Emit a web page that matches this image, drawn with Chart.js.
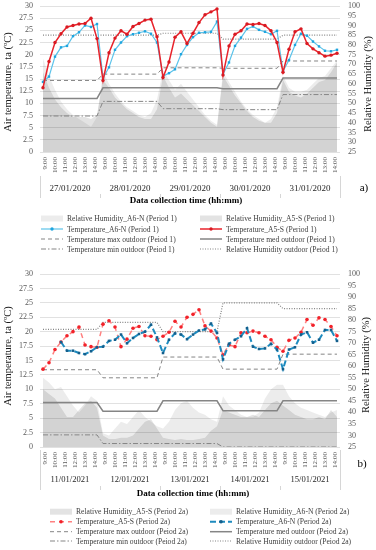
<!DOCTYPE html>
<html>
<head>
<meta charset="utf-8">
<script src="https://cdn.jsdelivr.net/npm/chart.js@4.4.1/dist/chart.umd.min.js"></script>
<style>
  html, body { margin: 0; padding: 0; background: #fff; }
  #wrapA { position: absolute; left: 0; top: 0; width: 376px; height: 258px; }
  #wrapB { position: absolute; left: 0; top: 258px; width: 376px; height: 292px; }
</style>
</head>
<body>
<div id="wrapA"><canvas id="chartA"></canvas></div>
<div id="wrapB"><canvas id="chartB"></canvas></div>
<script>
// ticks / categories
const hourTicks = ['9:00', '10:00', '11:00', '12:00', '13:00', '14:00'];
const datesA = ['27/01/2020', '28/01/2020', '29/01/2020', '30/01/2020', '31/01/2020'];
const datesB = ['11/01/2021', '12/01/2021', '13/01/2021', '14/01/2021', '15/01/2021'];
const pointsPerDay = 10;

// panel a) Period 1
const tempA5S_a = [13.2, 18.6, 22.5, 24.3, 25.7, 26.0, 26.3, 26.4, 27.5, 23.3,
  14.7, 20.4, 23.4, 24.9, 24.2, 25.8, 26.4, 27.1, 27.3, 23.7,
  15.3, 18.5, 23.6, 24.7, 22.3, 24.4, 26.6, 28.2, 28.8, 29.4,
  15.8, 21.8, 24.2, 24.9, 26.3, 26.2, 26.4, 26.0, 24.9, 22.5,
  16.4, 21.1, 24.7, 25.3, 22.3, 21.2, 20.4, 19.7, 19.9, 20.3];
const tempA6N_a = [14.4, 15.5, 19.6, 21.5, 21.8, 23.8, 24.6, 26.0, 25.7, 26.3,
  15.2, 17.4, 21.0, 22.5, 23.8, 24.2, 24.5, 24.8, 24.3, 22.5,
  15.6, 16.2, 17.0, 20.1, 22.0, 23.6, 24.5, 24.6, 24.7, 26.8,
  16.0, 18.4, 21.8, 23.5, 25.3, 25.8, 25.1, 24.7, 24.2, 24.9,
  16.6, 18.9, 22.0, 24.3, 23.9, 22.7, 21.7, 20.8, 20.7, 21.0];
const rhA6N_a = [73, 64, 57, 51, 47, 44, 42, 40, 38, 43,
  66, 60, 55, 51, 48, 46, 44, 43, 45, 52,
  67, 62, 57, 60, 56, 52, 48, 44, 41, 39,
  66, 61, 56, 51, 47, 44, 42, 40, 42, 48,
  64, 58, 56, 56, 57, 60, 63, 64, 68, 72];
const rhA5S_a = [66, 58, 52, 48, 45, 43, 43, 43, 42, 44,
  62, 58, 53, 50, 47, 45, 43, 42, 42, 47,
  64, 58, 53, 55, 52, 49, 46, 43, 40, 38,
  64, 59, 54, 50, 46, 43, 41, 40, 40, 45,
  62, 56, 54, 53, 55, 58, 61, 62, 66, 71];
const tMax_a = [14.7, 16.0, 17.3, 17.2, 18.7];
const tMed_a = [11.0, 13.2, 13.2, 13.0, 15.2];
const tMin_a = [7.4, 10.4, 8.9, 8.7, 11.8];
const rhOut_a = [85, 85, 86, 83, 85];

// panel b) Period 2a
const tempA5S_b = [13.5, 14.6, 16.9, 18.2, 19.3, 20.0, 20.8, 17.7, 17.4, 17.3,
  21.3, 21.9, 20.8, 17.4, 18.7, 20.6, 20.9, 19.3, 19.2, 18.6,
  19.2, 19.9, 21.8, 20.8, 22.5, 23.0, 23.8, 21.0, 20.1, 18.9,
  16.0, 17.7, 17.4, 19.8, 19.8, 20.1, 19.8, 19.2, 18.6, 17.3,
  16.6, 18.5, 18.9, 19.9, 22.1, 21.1, 22.4, 22.1, 20.9, 19.3];
const tempA6N_b = [null, null, null, 18.2, 16.7, 16.7, 16.3, 16.1, 16.6, 17.3,
  17.4, 18.4, 18.6, 19.5, 18.0, 18.9, 19.6, 20.0, 21.2, 19.0,
  16.3, 18.6, 19.7, 19.5, 18.7, 19.5, 20.2, 20.4, 21.4, 19.8,
  15.2, 17.9, 18.6, 19.2, 20.6, 17.4, 17.0, 17.1, 17.9, 16.9,
  13.5, 16.9, 17.3, 19.5, 19.9, 18.1, 18.6, 20.3, 20.3, 18.4];
const rhA5S_b = [50, 48, 46, 42, 38, 38, 41, 44, 45, 42,
  30, 28.5, 28.5, 29, 29, 30, 33, 36, 37, 33,
  29, 28.5, 28, 28.5, 28, 28, 28.5, 29, 32, 34,
  41, 40, 39, 38, 38, 39, 38, 41, 44, 45,
  43, 41, 39, 38, 37, 37, 38, 37, 41, 38];
const rhA6N_b = [55, 53, 50, 51, 47, 43, 40, 43, 47, 45,
  31, 30, 33, 36, 35, 38, 41, 38, 36, 34,
  33, 36, 41, 44, 45, 42, 40, 39, 37, 36,
  47, 43, 41, 39, 38, 38, 40, 46, 50, 52,
  52, 47, 44, 42, 41, 40, 39, 38, 40, 41];
const tMax_b = [13.4, 12.0, 15.6, 13.5, 16.1];
const tMed_b = [7.7, 6.2, 8.0, 6.3, 8.0];
const tMin_b = [2.1, 0.6, 0.6, 0.0, 0.0];
const rhOut_b = [76, 79, 75, 87.5, 85];

// outdoor values are one per day
function perDay(values) {
  return values.flatMap(v => Array(pointsPerDay).fill(v));
}
function samples(dates) {
  return dates.flatMap(d => Array.from({ length: pointsPerDay }, (_, i) => d + ' #' + (i + 1)));
}

const serif = "'Liberation Serif', 'DejaVu Serif', serif";
Chart.defaults.font.family = serif;
Chart.defaults.color = '#595959';

const LIGHT = 'rgba(0,0,0,0.075)';
const DARK = 'rgba(0,0,0,0.11)';

function area(label, data, color) {
  return { label, data, yAxisID: 'y1', xAxisID: 'x', fill: 'start', backgroundColor: color,
    borderWidth: 0, pointRadius: 0, order: 10, isArea: true };
}
function outdoor(label, data, dash, width, yAxis) {
  return { label, data, yAxisID: yAxis || 'y', xAxisID: 'x', borderColor: '#858585', borderWidth: width,
    borderDash: dash, pointRadius: 0, fill: false, order: 3 };
}

// legend in two columns, drawn on the canvas
const legendPlugin = {
  id: 'twoColLegend',
  afterDraw(chart, args, opts) {
    const ctx = chart.ctx;
    ctx.save();
    ctx.font = opts.fontSize + 'px ' + serif;
    ctx.textBaseline = 'middle';
    opts.items.forEach((di, i) => {
      const ds = chart.data.datasets[di];
      const x = opts.cols[i % 2], y = opts.rows[Math.floor(i / 2)];
      if (ds.isArea) {
        ctx.fillStyle = ds.backgroundColor;
        ctx.fillRect(x, y - 3, 22, 6);
      } else {
        ctx.strokeStyle = ds.borderColor;
        ctx.lineWidth = ds.borderWidth;
        ctx.setLineDash(ds.borderDash || []);
        ctx.beginPath(); ctx.moveTo(x, y); ctx.lineTo(x + 22, y); ctx.stroke();
        ctx.setLineDash([]);
        if (ds.pointRadius) {
          ctx.fillStyle = ds.pointBackgroundColor;
          ctx.beginPath(); ctx.arc(x + 11, y, ds.pointRadius, 0, Math.PI * 2); ctx.fill();
        }
      }
      ctx.fillStyle = '#404040';
      ctx.fillText(ds.label, x + 26, y + 0.5);
    });
    ctx.restore();
  }
};

// axis titles, panel letter, date separators
const textPlugin = {
  id: 'panelText',
  afterDraw(chart, args, opts) {
    const ctx = chart.ctx, a = chart.chartArea;
    ctx.save();
    ctx.fillStyle = '#1a1a1a';
    ctx.textAlign = 'center';
    ctx.textBaseline = 'middle';
    ctx.font = opts.titleSize + 'px ' + serif;
    ctx.save(); ctx.translate(opts.leftX, opts.leftY); ctx.rotate(-Math.PI / 2);
    ctx.fillText('Air temperature, ta (ºC)', 0, 0); ctx.restore();
    ctx.save(); ctx.translate(opts.rightX, opts.rightY); ctx.rotate(-Math.PI / 2);
    ctx.fillText('Relative Humidity (%)', 0, 0); ctx.restore();
    ctx.font = 'bold ' + opts.xTitleSize + 'px ' + serif;
    ctx.fillStyle = '#000';
    ctx.fillText('Data collection time (hh:mm)', opts.xTitleX, opts.xTitleY);
    ctx.font = '11px ' + serif;
    ctx.fillText(opts.letter, opts.letterX, opts.letterY);
    // separators between day groups
    ctx.strokeStyle = '#d6d6d6';
    ctx.lineWidth = 1;
    const w = (a.right - a.left) / 5;
    for (let i = 0; i <= 5; i++) {
      const x = Math.round(a.left + i * w) + 0.5;
      ctx.beginPath();
      if (i === 0 || i === 5) { ctx.moveTo(x, opts.sepTop); } else { ctx.moveTo(x, opts.sepBottom - 4); }
      ctx.lineTo(x, opts.sepBottom);
      ctx.stroke();
    }
    ctx.restore();
  }
};

function scales(dates, hourH, dateH, datePad, dateSize) {
  return {
    x: { type: 'category', axis: 'x', display: false, offset: true },
    xHour: {
      type: 'category', axis: 'x', position: 'bottom', offset: true, weight: 1,
      labels: dates.flatMap(() => hourTicks),
      grid: { display: false, drawTicks: false }, border: { display: false },
      ticks: { autoSkip: false, maxRotation: 90, minRotation: 90, padding: 5, font: { size: 7 } },
      afterFit: s => { s.height = hourH; }
    },
    xDate: {
      type: 'category', axis: 'x', position: 'bottom', offset: true, weight: 2,
      labels: dates,
      grid: { display: false, drawTicks: false }, border: { display: false },
      ticks: { autoSkip: false, maxRotation: 0, padding: datePad, color: '#262626', font: { size: dateSize } },
      afterFit: s => { s.height = dateH; }
    },
    y: {
      position: 'left', min: 0, max: 30,
      ticks: { stepSize: 2.5, padding: 7, autoSkip: false, font: { size: 8 } },
      grid: { color: '#d9d9d9', lineWidth: 0.8, drawTicks: false }, border: { display: false },
      afterFit: s => { s.width = 40; s.paddingTop = 0; s.paddingBottom = 0; }
    },
    y1: {
      position: 'right', min: 25, max: 100,
      ticks: { stepSize: 5, padding: 8, autoSkip: false, font: { size: 8 } },
      grid: { display: false, drawTicks: false }, border: { display: false },
      afterFit: s => { s.width = 36; s.paddingTop = 0; s.paddingBottom = 0; }
    }
  };
}

// ---------- panel a ----------
new Chart(document.getElementById('chartA'), {
  type: 'line',
  data: {
    labels: samples(datesA),
    datasets: [
      area('Relative Humidity_A6-N (Period 1)', rhA6N_a, LIGHT),
      area('Relative Humidity_A5-S (Period 1)', rhA5S_a, DARK),
      { label: 'Temperature_A6-N (Period 1)', data: tempA6N_a, xAxisID: 'x', yAxisID: 'y',
        borderColor: '#5cc3ea', borderWidth: 1.2, pointRadius: 1.7, pointStyle: 'rect',
        pointBackgroundColor: '#1fa5df', pointBorderWidth: 0, fill: false, order: 1 },
      { label: 'Temperature_A5-S (Period 1)', data: tempA5S_a, xAxisID: 'x', yAxisID: 'y',
        borderColor: '#e8232b', borderWidth: 1.5, pointRadius: 1.7,
        pointBackgroundColor: '#d91a22', pointBorderWidth: 0, fill: false, order: 0 },
      outdoor('Temperature max outdoor (Peiod 1)', perDay(tMax_a), [4, 3], 1),
      outdoor('Temperature med outdoor (Peiod 1)', perDay(tMed_a), [], 1.5),
      outdoor('Temperature min outdoor (Peiod 1)', perDay(tMin_a), [5, 2, 1.5, 2], 1),
      outdoor('Relative Humidity outdoor (Peiod 1)', perDay(rhOut_a), [1, 1.5], 1.2, 'y1')
    ]
  },
  options: {
    responsive: true, maintainAspectRatio: false, animation: false,
    layout: { padding: { top: 6, bottom: 61, left: 0, right: 0 } },
    elements: { line: { tension: 0 } },
    scales: scales(datesA, 25, 20, 6, 9),
    plugins: {
      legend: { display: false }, tooltip: { enabled: false },
      twoColLegend: { items: [0, 1, 2, 3, 4, 5, 6, 7], cols: [41, 200], rows: [218.5, 229, 239, 249], fontSize: 7.6 },
      panelText: { titleSize: 10.5, leftX: 8, leftY: 82, rightX: 368, rightY: 84,
        xTitleSize: 9, xTitleX: 186, xTitleY: 201, letter: 'a)', letterX: 364, letterY: 188,
        sepTop: 176, sepBottom: 198 }
    }
  },
  plugins: [legendPlugin, textPlugin]
});

// ---------- panel b ----------
new Chart(document.getElementById('chartB'), {
  type: 'line',
  data: {
    labels: samples(datesB),
    datasets: [
      area('Relative Humidity_A5-S (Period 2a)', rhA5S_b, DARK),
      area('Relative Humidity_A6-N (Period 2a)', rhA6N_b, LIGHT),
      { label: 'Temperature_A5-S (Period 2a)', data: tempA5S_b, xAxisID: 'x', yAxisID: 'y',
        borderColor: '#ff8080', borderWidth: 1.5, borderDash: [5, 4], pointRadius: 1.8,
        pointBackgroundColor: '#f2222a', pointBorderWidth: 0, fill: false, order: 1 },
      { label: 'Temperature_A6-N (Period 2a)', data: tempA6N_b, xAxisID: 'x', yAxisID: 'y',
        borderColor: '#1e8bbf', borderWidth: 2, borderDash: [6, 3], pointRadius: 1.8, pointStyle: 'rect',
        pointBackgroundColor: '#145f8c', pointBorderWidth: 0, fill: false, order: 0 },
      outdoor('Temperature max outdoor (Peiod 2a)', perDay(tMax_b), [4, 3], 1),
      outdoor('Temperature med outdoor (Peiod 2a)', perDay(tMed_b), [], 1.5),
      outdoor('Temperature min outdoor (Peiod 2a)', perDay(tMin_b), [5, 2, 1.5, 2], 1),
      outdoor('Relative Humidity outdoor (Peiod 2a)', perDay(rhOut_b), [1, 1.5], 1.2, 'y1')
    ]
  },
  options: {
    responsive: true, maintainAspectRatio: false, animation: false,
    layout: { padding: { top: 16, bottom: 59, left: 0, right: 0 } },
    elements: { line: { tension: 0 } },
    scales: scales(datesB, 24, 20, 4, 8.6),
    plugins: {
      legend: { display: false }, tooltip: { enabled: false },
      twoColLegend: { items: [0, 1, 2, 3, 4, 5, 6, 7], cols: [50, 210], rows: [253.7, 263.7, 273.7, 283], fontSize: 7.6 },
      panelText: { titleSize: 10.5, leftX: 8, leftY: 98, rightX: 366, rightY: 107,
        xTitleSize: 9, xTitleX: 193, xTitleY: 236, letter: 'b)', letterX: 362, letterY: 206,
        sepTop: 192, sepBottom: 232 }
    }
  },
  plugins: [legendPlugin, textPlugin]
});
</script>
</body>
</html>
